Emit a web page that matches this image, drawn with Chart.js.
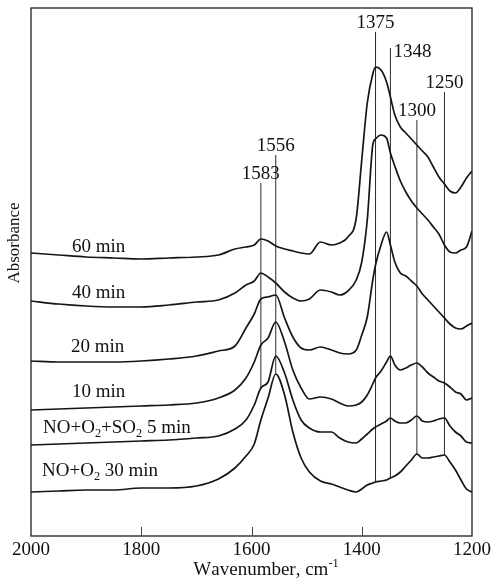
<!DOCTYPE html>
<html lang="en">
<head>
  <meta charset="UTF-8">
  <title>IR spectra, NO+O2+SO2 adsorption</title>
  <style>
    html, body { margin: 0; padding: 0; background: #fff; }
    #wrap { width: 496px; height: 588px; }
  </style>
</head>
<body>
<div id="wrap"><canvas id="spectra" width="496" height="588"></canvas></div>

<script src="https://cdn.jsdelivr.net/npm/chart.js"></script>
<script>
  // wavenumber grid (cm-1), shared by all spectra
  const wavenumbers = [2000, 1950, 1900, 1850, 1800, 1750, 1700, 1660, 1630, 1610,
    1595, 1583, 1570, 1556, 1540, 1525, 1510, 1495, 1475, 1455,
    1440, 1425, 1410, 1400, 1390, 1380, 1375, 1365, 1355, 1348,
    1340, 1330, 1320, 1310, 1300, 1290, 1280, 1270, 1260, 1250,
    1240, 1230, 1220, 1210, 1200];

  // stacked absorbance (offset, arbitrary units)
  const abs60 = [283, 281, 279, 278, 277, 278, 279, 281, 287, 289,
    291, 297, 295, 290, 287, 285, 283, 282, 294, 291,
    293, 299, 318, 376, 433, 462, 469, 466, 454, 439,
    421, 409, 403, 397, 391, 385, 379, 369, 359, 352,
    345, 343, 349, 358, 365];
  const abs40 = [235, 232, 230, 229, 229, 231, 234, 236, 243, 251,
    255, 263, 259, 253, 244, 238, 235, 237, 246, 244,
    241, 245, 256, 274, 316, 391, 397, 401, 398, 383,
    370, 355, 344, 335, 328, 322, 316, 309, 302, 291,
    284, 283, 286, 289, 305];
  const abs20 = [175, 174, 174, 174, 175, 177, 180, 185, 190, 208,
    222, 237, 239, 241, 218, 199, 188, 186, 189, 186,
    183, 182, 186, 201, 219, 256, 271, 291, 304, 291,
    274, 263, 260, 255, 250, 242, 236, 230, 224, 218,
    212, 208, 207, 210, 213];
  const abs10 = [126, 127, 128, 129, 130, 131, 133, 138, 146, 158,
    174, 191, 198, 214, 194, 166, 148, 137, 139, 137,
    133, 130, 131, 134, 141, 152, 158, 165, 174, 180,
    171, 166, 168, 171, 173, 169, 163, 159, 155, 153,
    149, 144, 142, 136, 138];
  const absSO2 = [91, 92, 93, 94, 95, 96, 98, 100, 107, 116,
    131, 148, 154, 180, 163, 136, 116, 108, 104, 104,
    98, 94, 93, 97, 102, 107, 109, 112, 115, 118,
    115, 113, 113, 116, 120, 115, 114, 115, 117, 118,
    110, 104, 100, 94, 93];
  const absNO = [44, 45, 46, 46, 48, 48, 50, 57, 68, 80,
    92, 116, 138, 162, 141, 104, 78, 64, 55, 52,
    49, 46, 44, 47, 51, 53, 54, 55, 56, 58,
    60, 64, 70, 76, 82, 78, 78, 79, 80, 81,
    74, 66, 56, 47, 44];

  const seriesNames = ['60 min', '40 min', '20 min', '10 min', 'NO+O₂+SO₂ 5 min', 'NO+O₂ 30 min'];

  // marked bands and the span of their guide lines (same units as above)
  const peakPositions = [1583, 1556, 1375, 1348, 1300, 1250];
  const peakLineTop = [353, 381, 504, 488, 416, 444];
  const peakLineBottom = [148, 162, 54, 58, 82, 81];

  const xTicks = [2000, 1800, 1600, 1400, 1200];

  const SERIF = '"Liberation Serif", "Times New Roman", serif';

  // text with sub/superscript characters drawn one by one
  const SUB = { '₂': '2' };
  const SUP = { '⁻': '-', '¹': '1' };
  function richWidth(ctx, text, size) {
    let w = 0;
    for (const ch of text) {
      const small = SUB[ch] || SUP[ch];
      ctx.font = (small ? size * 0.65 : size) + 'px ' + SERIF;
      w += ctx.measureText(small || ch).width;
    }
    return w;
  }
  function drawRich(ctx, text, x, y, size) {
    let cx = x;
    for (const ch of text) {
      let s = ch, f = size, dy = 0;
      if (SUB[ch]) { s = SUB[ch]; f = size * 0.65; dy = size * 0.22; }
      else if (SUP[ch]) { s = SUP[ch]; f = size * 0.65; dy = -size * 0.4; }
      ctx.font = f + 'px ' + SERIF;
      ctx.fillText(s, cx, y + dy);
      cx += ctx.measureText(s).width;
    }
  }

  // frame, inward ticks, band labels, curve labels, axis titles
  const annotate = {
    id: 'annotate',
    afterDraw(chart) {
      const ctx = chart.ctx;
      const a = chart.chartArea;
      const xs = chart.scales.x, ys = chart.scales.y;
      ctx.save();
      ctx.strokeStyle = '#1e1e1e';
      ctx.lineWidth = 1.3;
      ctx.strokeRect(a.left, a.top, a.right - a.left, a.bottom - a.top);

      ctx.strokeStyle = '#444';
      ctx.lineWidth = 1;
      xTicks.slice(1, -1).forEach(t => {
        const px = Math.round(xs.getPixelForValue(t)) + 0.5;
        ctx.beginPath();
        ctx.moveTo(px, a.bottom);
        ctx.lineTo(px, a.bottom - 9);
        ctx.stroke();
      });

      ctx.fillStyle = '#111';
      ctx.textBaseline = 'alphabetic';
      ctx.font = '19px ' + SERIF;
      peakPositions.forEach((p, i) => {
        const px = xs.getPixelForValue(p);
        const top = ys.getPixelForValue(peakLineTop[i]);
        if (p === 1348) {
          ctx.textAlign = 'left';
          ctx.fillText(String(p), px + 3, top + 9);
        } else {
          ctx.textAlign = 'center';
          ctx.fillText(String(p), px, top - 4);
        }
      });

      ctx.textAlign = 'left';
      const labelX = [72, 72, 71, 72, 43, 42];
      const labelBase = [252, 298, 352, 397, 433, 476];
      seriesNames.forEach((name, i) => drawRich(ctx, name, labelX[i], labelBase[i], 19));

      const title = 'Wavenumber, cm⁻¹';
      drawRich(ctx, title, 266 - richWidth(ctx, title, 19) / 2, 575, 19);

      ctx.translate(15, 243);
      ctx.rotate(-Math.PI / 2);
      ctx.textAlign = 'center';
      ctx.textBaseline = 'middle';
      ctx.font = '17px ' + SERIF;
      ctx.fillText('Absorbance', 0, 0);
      ctx.restore();
    }
  };

  const curves = [abs60, abs40, abs20, abs10, absSO2, absNO];
  const datasets = curves.map((vals, i) => ({
    label: seriesNames[i],
    data: wavenumbers.map((w, j) => ({ x: w, y: vals[j] })),
    borderColor: '#151515',
    borderWidth: 1.7,
    pointRadius: 0,
    fill: false,
    cubicInterpolationMode: 'monotone'
  }));
  peakPositions.forEach((p, i) => {
    datasets.push({
      label: 'band ' + p,
      data: [{ x: p, y: peakLineBottom[i] }, { x: p, y: peakLineTop[i] }],
      borderColor: '#2a2a2a',
      borderWidth: 1,
      pointRadius: 0,
      fill: false
    });
  });

  new Chart(document.getElementById('spectra'), {
    type: 'line',
    data: { datasets: datasets },
    options: {
      responsive: false,
      animation: false,
      devicePixelRatio: 1,
      layout: { padding: { left: 31, right: 24, top: 8, bottom: 0 } },
      plugins: { legend: { display: false }, tooltip: { enabled: false } },
      scales: {
        x: {
          type: 'linear',
          reverse: true,
          min: 1200,
          max: 2000,
          grid: { display: false, drawTicks: false },
          border: { display: false },
          afterBuildTicks: scale => { scale.ticks = xTicks.map(v => ({ value: v })); },
          afterFit: scale => { scale.height = 52; },
          ticks: {
            padding: 3,
            color: '#111',
            font: { family: SERIF, size: 19 },
            callback: v => String(v)
          }
        },
        y: {
          display: false,
          min: 0,
          max: 528
        }
      }
    },
    plugins: [annotate]
  });
</script>
</body>
</html>
